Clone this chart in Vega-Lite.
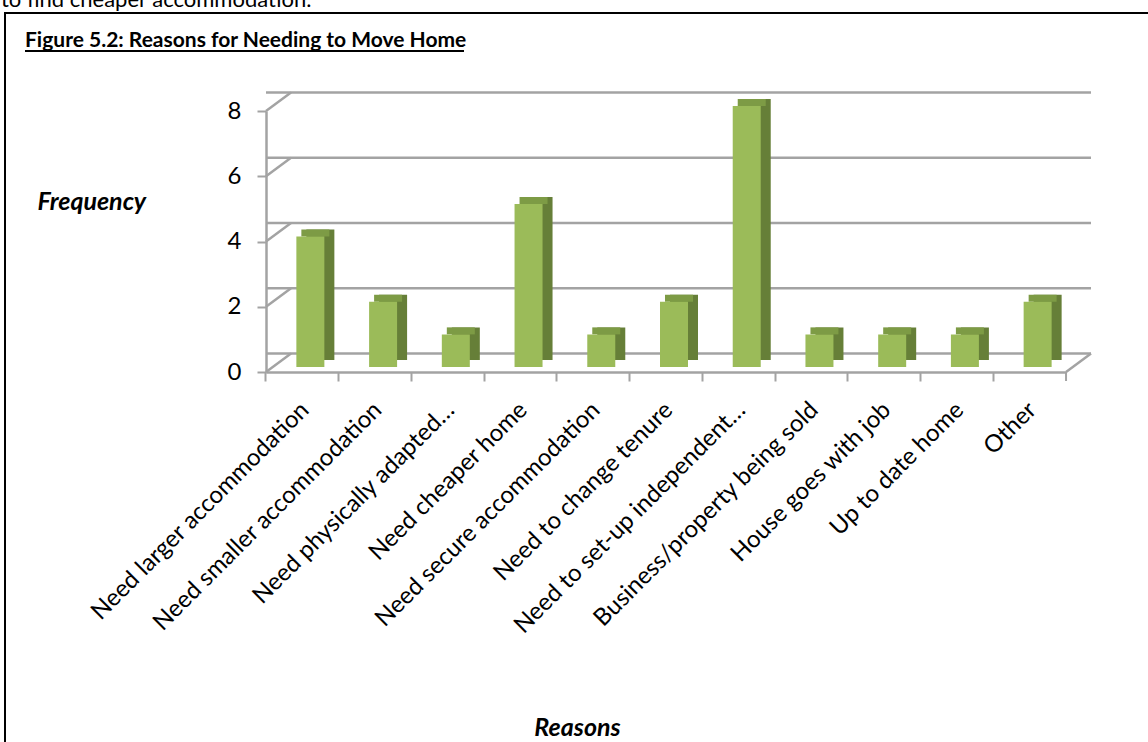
{
  "$schema": "https://vega.github.io/schema/vega-lite/v6.json",
  "autosize": "none",
  "width": 800,
  "height": 261,
  "padding": {"left": 266, "top": 111, "right": 82, "bottom": 370},
  "background": "white",
  "config": {"view": {"stroke": null}, "font": "Lato"},
  "datasets": {
    "main": [
      {"reason": "Need larger accommodation", "count": 4},
      {"reason": "Need smaller accommodation", "count": 2},
      {"reason": "Need physically adapted…", "count": 1},
      {"reason": "Need cheaper home", "count": 5},
      {"reason": "Need secure accommodation", "count": 1},
      {"reason": "Need to change tenure", "count": 2},
      {"reason": "Need to set-up independent…", "count": 8},
      {"reason": "Business/property being sold", "count": 1},
      {"reason": "House goes with job", "count": 1},
      {"reason": "Up to date home", "count": 1},
      {"reason": "Other", "count": 2}
    ],
    "grid": [{"v": 0}, {"v": 2}, {"v": 4}, {"v": 6}, {"v": 8}],
    "one": [{"t": "to find cheaper accommodation.", "title": "Figure 5.2:  Reasons for Needing to Move Home"}]
  },
  "resolve": {"axis": {"x": "independent", "y": "independent"}},
  "layer": [
    {
      "data": {"name": "one"},
      "mark": {"type": "rect", "fill": "white", "fillOpacity": 0, "stroke": "black", "strokeWidth": 2},
      "encoding": {
        "x": {"value": -261}, "x2": {"value": 900},
        "y": {"value": -98}, "y2": {"value": 660}
      }
    },
    {
      "data": {"name": "one"},
      "mark": {"type": "text", "align": "left", "baseline": "alphabetic", "font": "Lato", "fontSize": 22, "color": "black"},
      "encoding": {"x": {"value": -265}, "y": {"value": -104}, "text": {"field": "t"}}
    },
    {
      "data": {"name": "one"},
      "mark": {"type": "text", "align": "left", "baseline": "alphabetic", "font": "Lato", "fontWeight": "bold", "fontSize": 21, "color": "black"},
      "encoding": {"x": {"value": -241}, "y": {"value": -64}, "text": {"field": "title"}}
    },
    {
      "data": {"name": "one"},
      "mark": {"type": "rule", "color": "black", "strokeWidth": 2},
      "encoding": {"x": {"value": -241}, "x2": {"value": 198}, "y": {"value": -60}}
    },
    {
      "data": {"name": "grid"},
      "mark": {"type": "rule", "color": "#A3A3A3", "strokeWidth": 2.5, "xOffset": 25, "x2Offset": 25, "yOffset": -18.5},
      "encoding": {
        "y": {"field": "v", "type": "quantitative", "scale": {"domain": [0, 8], "nice": false}, "axis": null}
      }
    },
    {
      "data": {"name": "grid"},
      "mark": {"type": "rule", "color": "#A3A3A3", "strokeWidth": 2.5, "x2Offset": 25, "y2Offset": -18.5},
      "encoding": {
        "x": {"value": 0}, "x2": {"value": 0},
        "y": {"field": "v", "type": "quantitative", "axis": null},
        "y2": {"field": "v"}
      }
    },
    {
      "data": {"name": "main"},
      "mark": {"type": "bar", "size": 28, "color": "#667F38", "xOffset": 18, "yOffset": -12, "y2Offset": -12},
      "encoding": {
        "x": {
          "field": "reason", "type": "nominal", "sort": null,
          "scale": {
            "domain": ["Need larger accommodation", "Need smaller accommodation", "Need physically adapted…", "Need cheaper home", "Need secure accommodation", "Need to change tenure", "Need to set-up independent…", "Business/property being sold", "House goes with job", "Up to date home", "Other"],
            "paddingInner": 0, "paddingOuter": 0
          },
          "axis": {
            "orient": "bottom",
            "bandPosition": 0, "labels": false, "ticks": true, "tickSize": 9, "tickColor": "#A3A3A3", "tickWidth": 2,
            "domain": true, "domainColor": "#A3A3A3", "domainWidth": 2.5, "title": null, "grid": false
          }
        },
        "y": {
          "field": "count", "type": "quantitative",
          "axis": {
            "orient": "left",
            "values": [0, 2, 4, 6, 8], "grid": false, "domain": true, "domainColor": "#A3A3A3", "domainWidth": 2.5,
            "ticks": true, "tickSize": 9, "tickColor": "#A3A3A3", "tickWidth": 2,
            "labelFont": "Lato", "labelFontSize": 24, "labelColor": "black", "labelPadding": 16,
            "title": "Frequency", "titleAngle": 0, "titleAlign": "left", "titleBaseline": "middle",
            "titleX": -229, "titleY": 90, "titleFont": "Lato", "titleFontSize": 25, "titleFontStyle": "italic",
            "titleFontWeight": "bold", "titleColor": "black"
          }
        },
        "y2": {"datum": 0}
      }
    },
    {
      "data": {"name": "one"},
      "mark": {"type": "rule", "color": "#A3A3A3", "strokeWidth": 2.5, "xOffset": 36.4, "x2Offset": 61.4, "y2Offset": -18.5},
      "encoding": {
        "x": {"datum": "Other", "type": "nominal", "axis": null},
        "x2": {"datum": "Other"},
        "y": {"datum": 0, "type": "quantitative", "axis": null},
        "y2": {"datum": 0}
      }
    },
    {
      "data": {"name": "one"},
      "mark": {"type": "rule", "color": "#A3A3A3", "strokeWidth": 2, "xOffset": 36.4, "x2Offset": 36.4, "y2Offset": 9},
      "encoding": {
        "x": {"datum": "Other", "type": "nominal", "axis": null},
        "x2": {"datum": "Other"},
        "y": {"datum": 0, "type": "quantitative", "axis": null},
        "y2": {"datum": 0}
      }
    },
    {
      "data": {"name": "main"},
      "mark": {"type": "bar", "size": 28, "color": "#7D9B45", "xOffset": 13, "yOffset": -12, "y2Offset": -5},
      "encoding": {
        "x": {"field": "reason", "type": "nominal", "sort": null, "axis": null},
        "y": {"field": "count", "type": "quantitative", "axis": null},
        "y2": {"field": "count"}
      }
    },
    {
      "data": {"name": "main"},
      "mark": {"type": "bar", "size": 28, "color": "#9BBB59", "xOffset": 8, "yOffset": -5, "y2Offset": -5},
      "encoding": {
        "x": {
          "field": "reason", "type": "nominal", "sort": null,
          "axis": {
            "orient": "bottom",
            "ticks": false, "domain": false, "labelAngle": -45, "labelAlign": "right", "labelBaseline": "middle",
            "labelFont": "Lato", "labelFontSize": 24, "labelColor": "black", "labelPadding": 34, "labelOffset": 3,
            "labelLimit": 0, "labelOverlap": false,
            "title": "Reasons", "titleX": 311, "titleY": 355, "titleAlign": "center", "titleBaseline": "middle",
            "titleFont": "Lato", "titleFontSize": 25, "titleFontStyle": "italic", "titleFontWeight": "bold", "titleColor": "black"
          }
        },
        "y": {"field": "count", "type": "quantitative", "axis": null},
        "y2": {"datum": 0}
      }
    }
  ]
}
